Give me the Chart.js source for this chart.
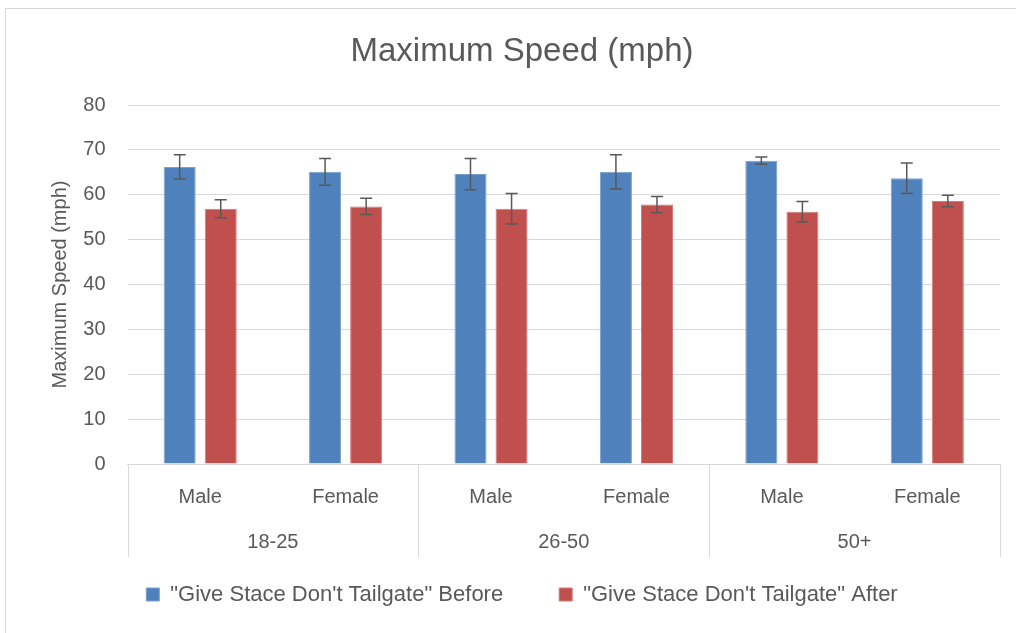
<!DOCTYPE html>
<html>
<head>
<meta charset="utf-8">
<script src="https://cdn.jsdelivr.net/npm/chart.js@4.4.0/dist/chart.umd.min.js"></script>
<style>
  html, body { margin: 0; padding: 0; background: #fff; }
  #wrap { position: absolute; left: 5px; top: 8px; width: 1011px; height: 625px; border-left: 1px solid #d9d9d9; border-top: 1px solid #d9d9d9; box-sizing: border-box; }
  #box { position: absolute; left: 0; top: 0; width: 1016px; height: 633px; }
</style>
</head>
<body>
<div id="wrap"></div>
<div id="box"><canvas id="speedChart" width="1016" height="633"></canvas></div>
<script>
// data
const ageGroups = ['18-25', '26-50', '50+'];
const genders = ['Male', 'Female'];
const beforeSpeed = [66.2, 65.1, 64.6, 65.1, 67.6, 63.7];
const beforeErr = [2.7, 3.0, 3.5, 3.8, 0.8, 3.4];
const afterSpeed = [56.9, 57.4, 56.9, 57.8, 56.2, 58.6];
const afterErr = [2.0, 1.8, 3.4, 1.8, 2.3, 1.3];
const yTicks = [0, 10, 20, 30, 40, 50, 60, 70, 80];

const labels = [];
ageGroups.forEach(g => genders.forEach(s => labels.push(s)));

const FONT = "'Liberation Sans', Arial, sans-serif";
const TXT = '#595959';
const GRID = '#d9d9d9';

// error bars, drawn from the y scale
const errorBars = {
    id: 'errorBars',
    afterDatasetsDraw(chart) {
        const ctx = chart.ctx;
        const y = chart.scales.y;
        const errs = [beforeErr, afterErr];
        ctx.save();
        ctx.strokeStyle = '#595959';
        ctx.lineWidth = 1.5;
        chart.data.datasets.forEach((ds, i) => {
            chart.getDatasetMeta(i).data.forEach((bar, j) => {
                const v = ds.data[j], e = errs[i][j];
                const top = y.getPixelForValue(v + e);
                const bot = y.getPixelForValue(v - e);
                ctx.beginPath();
                ctx.moveTo(bar.x, top); ctx.lineTo(bar.x, bot);
                ctx.moveTo(bar.x - 6, top); ctx.lineTo(bar.x + 6, top);
                ctx.moveTo(bar.x - 6, bot); ctx.lineTo(bar.x + 6, bot);
                ctx.stroke();
            });
        });
        ctx.restore();
    }
};

// second level of the category axis: age groups and separators
const groupAxis = {
    id: 'groupAxis',
    afterDraw(chart) {
        const ctx = chart.ctx;
        const x = chart.scales.x;
        const top = x.top;
        const n = genders.length;
        ctx.save();
        ctx.strokeStyle = GRID;
        ctx.lineWidth = 1;
        const edges = [x.left];
        for (let g = 1; g < ageGroups.length; g++) {
            edges.push((x.getPixelForValue(g * n - 1) + x.getPixelForValue(g * n)) / 2);
        }
        edges.push(x.right);
        edges.forEach(px => {
            ctx.beginPath();
            ctx.moveTo(Math.round(px) + 0.5, top);
            ctx.lineTo(Math.round(px) + 0.5, top + 93);
            ctx.stroke();
        });
        ctx.fillStyle = TXT;
        ctx.font = '20px ' + FONT;
        ctx.textAlign = 'center';
        ctx.textBaseline = 'middle';
        ageGroups.forEach((g, i) => {
            ctx.fillText(g, (edges[i] + edges[i + 1]) / 2, top + 78);
        });
        ctx.restore();
    }
};

new Chart(document.getElementById('speedChart').getContext('2d'), {
    type: 'bar',
    data: {
        labels: labels,
        datasets: [{
            label: '"Give Stace Don\'t Tailgate" Before',
            data: beforeSpeed,
            backgroundColor: '#4f81bd',
            borderColor: '#7a9fcd',
            borderWidth: 1
        }, {
            label: '"Give Stace Don\'t Tailgate" After',
            data: afterSpeed,
            backgroundColor: '#c0504d',
            borderColor: '#d27a78',
            borderWidth: 1
        }]
    },
    options: {
        responsive: false,
        animation: false,
        layout: { padding: { left: 44, right: 16, top: 0, bottom: 17.5 } },
        datasets: { bar: { categoryPercentage: 0.565, barPercentage: 0.78 } },
        scales: {
            y: {
                min: 0, max: 80,
                afterBuildTicks: s => { s.ticks = yTicks.map(v => ({ value: v })); },
                afterFit: s => { s.width = 83.5; },
                grid: { color: GRID, drawTicks: false },
                border: { display: false },
                ticks: { color: TXT, font: { family: FONT, size: 20 }, padding: 22 },
                title: { display: true, text: 'Maximum Speed (mph)', color: TXT, font: { family: FONT, size: 20 }, padding: { top: 4, bottom: 0 } }
            },
            x: {
                afterFit: s => { s.height = 63.5; },
                grid: { display: false },
                border: { display: true, color: GRID },
                ticks: { color: TXT, font: { family: FONT, size: 20 }, padding: 13 }
            }
        },
        plugins: {
            title: { display: true, text: 'Maximum Speed (mph)', color: TXT, font: { family: FONT, size: 33, weight: 'normal' }, padding: { top: 32, bottom: 33.4 } },
            legend: {
                position: 'bottom',
                labels: { color: TXT, font: { family: FONT, size: 22 }, boxWidth: 13, boxHeight: 13, padding: 56 }
            },
            tooltip: { enabled: false }
        }
    },
    plugins: [errorBars, groupAxis]
});
</script>
</body>
</html>
